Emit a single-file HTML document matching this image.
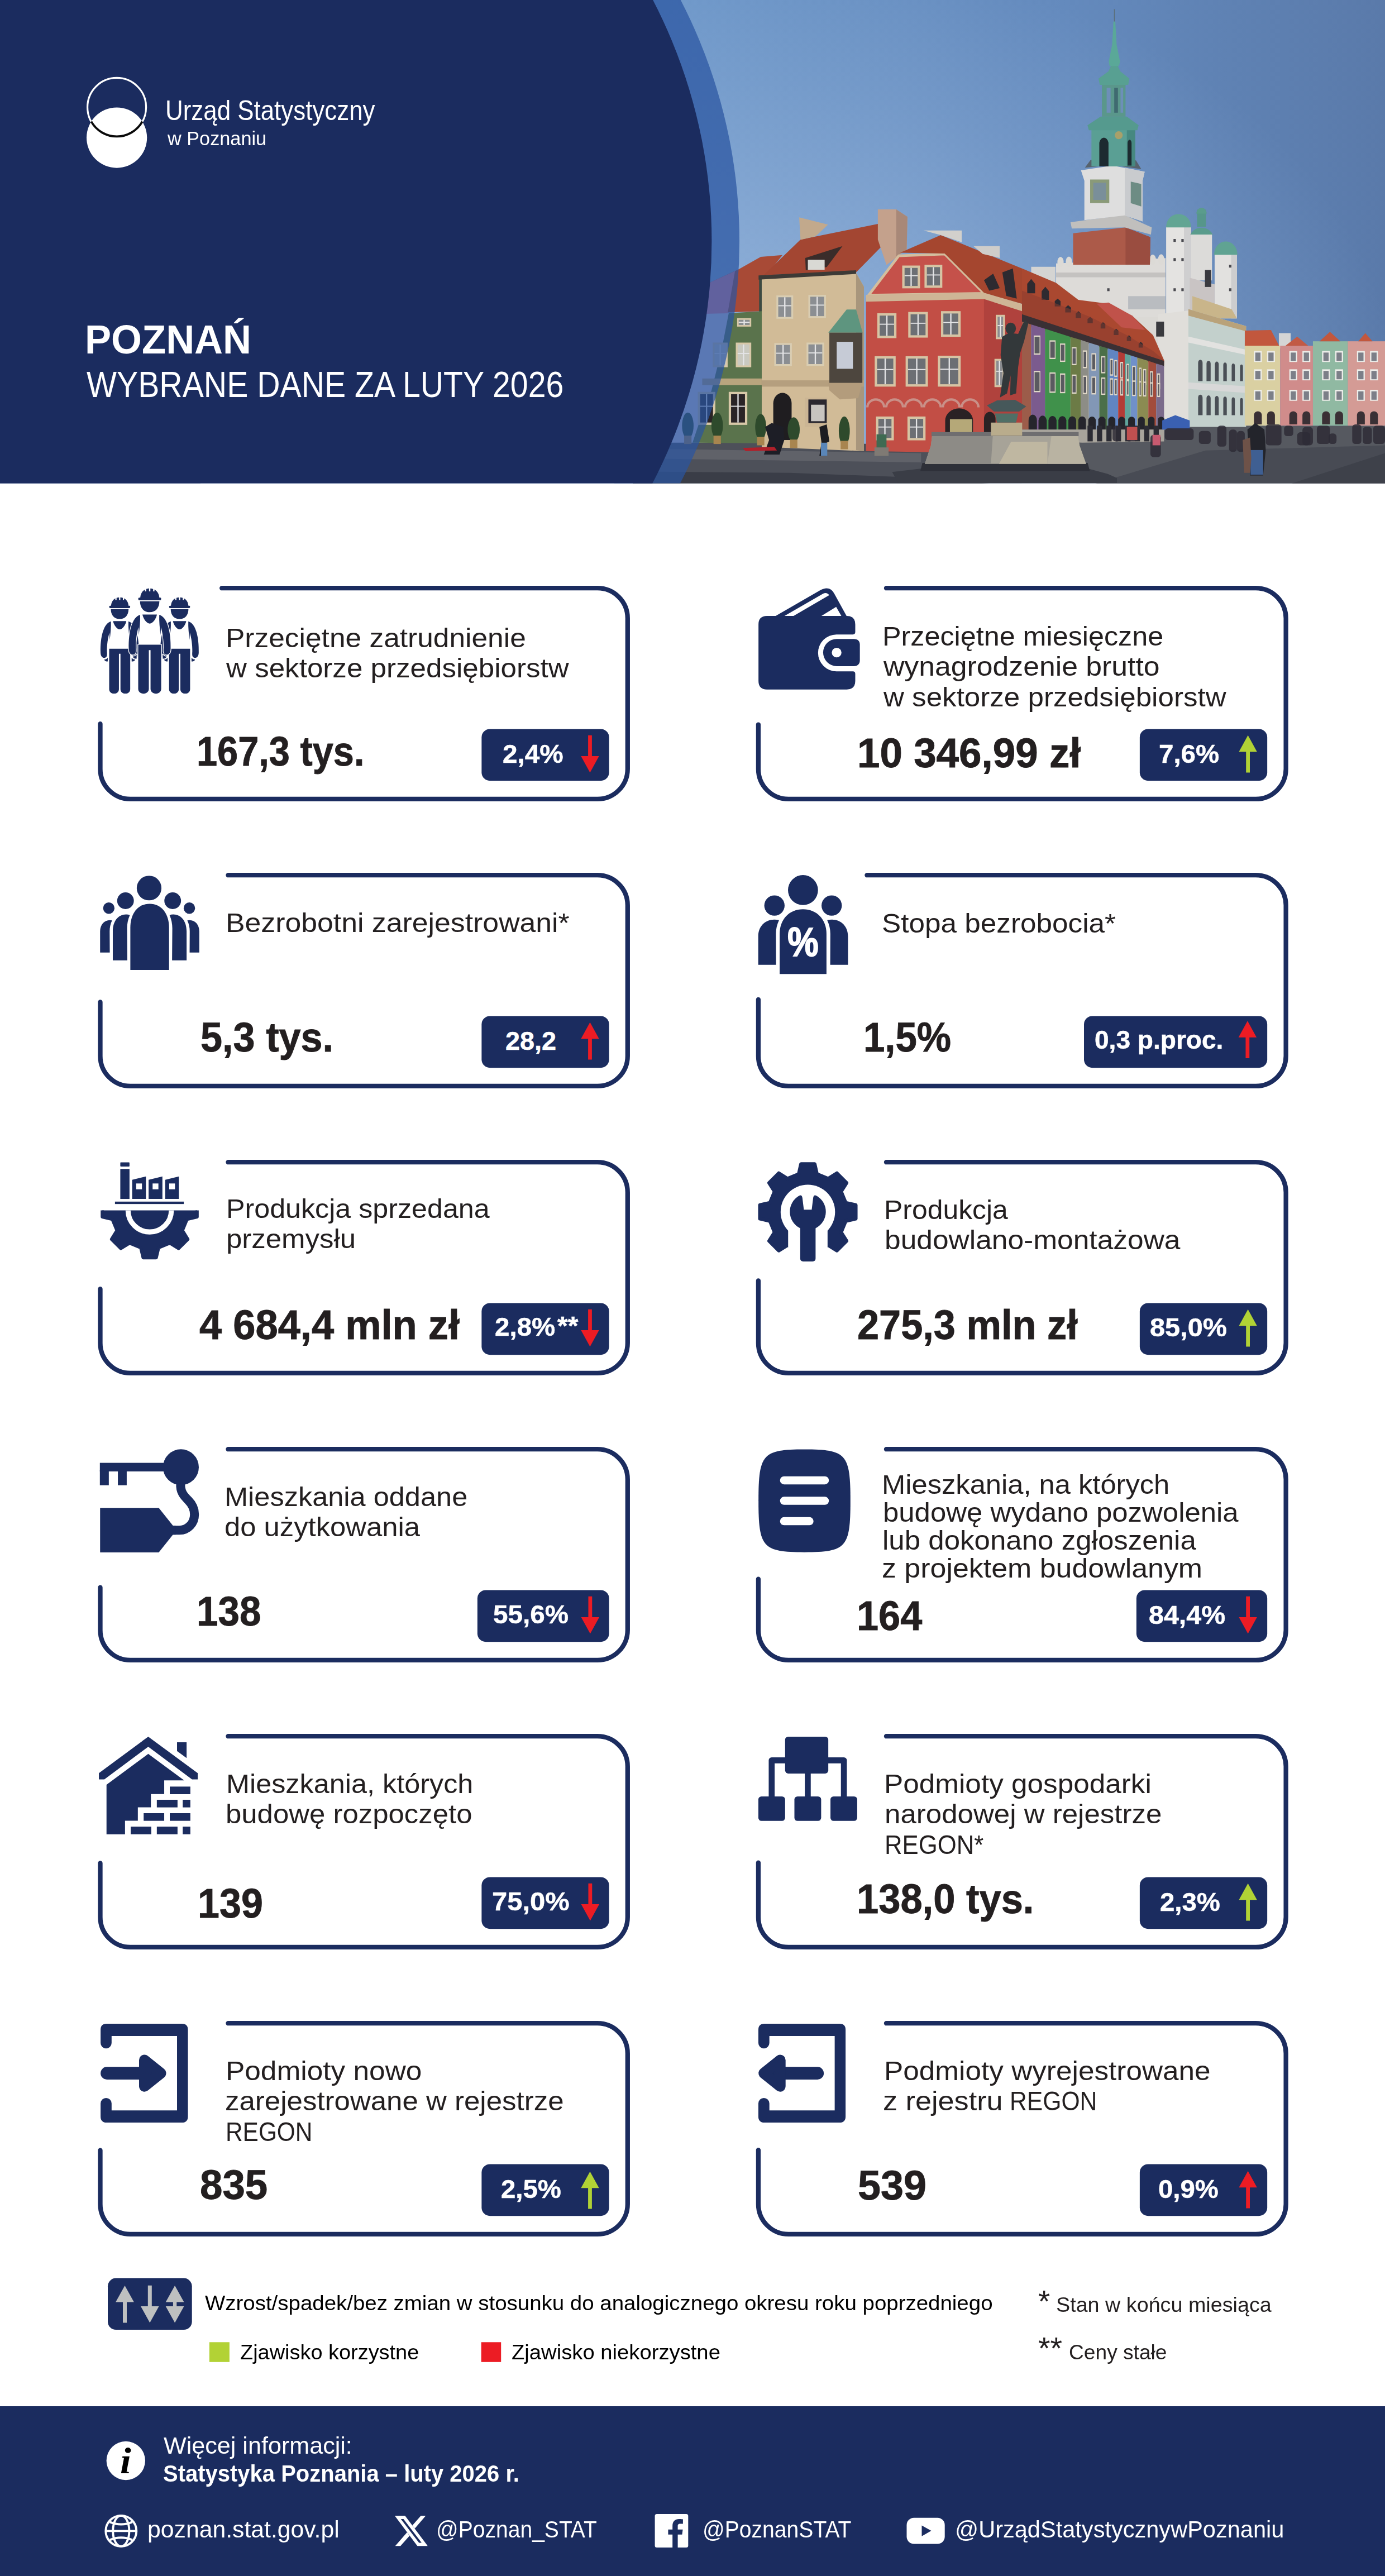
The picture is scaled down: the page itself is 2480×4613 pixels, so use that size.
<!DOCTYPE html>
<html lang="pl"><head><meta charset="utf-8"><title>Poznań – wybrane dane za luty 2026</title>
<style>
html,body{margin:0;padding:0;background:#fff}
body{width:2480px;height:4613px;position:relative;overflow:hidden;font-family:"Liberation Sans",sans-serif;color:#231f20}
.t{position:absolute;white-space:pre;line-height:1;transform-origin:0 0;display:block}
.ic{position:absolute;overflow:visible}
#bg{position:absolute;left:0;top:0}
#hd{position:absolute;left:0;top:0}
#ft{position:absolute;left:0;top:4309px;width:2480px;height:304px;background:#1b2c5f}
</style></head><body>
<svg id="hd" width="2480" height="866" viewBox="0 0 2480 866">
<defs>
<linearGradient id="sky" gradientUnits="userSpaceOnUse" x1="1200" y1="0" x2="2480" y2="0"><stop offset="0" stop-color="#6c96c8"/><stop offset="0.55" stop-color="#648abd"/><stop offset="1" stop-color="#5a7aaa"/></linearGradient>
<radialGradient id="sky2" gradientUnits="userSpaceOnUse" cx="0" cy="0" r="1" gradientTransform="translate(1300 700) scale(1200 800)"><stop offset="0" stop-color="#98b6dc" stop-opacity="0.9"/><stop offset="0.35" stop-color="#98b6dc" stop-opacity="0.6"/><stop offset="0.7" stop-color="#98b6dc" stop-opacity="0.25"/><stop offset="1" stop-color="#98b6dc" stop-opacity="0"/></radialGradient>
<clipPath id="hc"><rect x="0" y="0" width="2480" height="865.5"/></clipPath>
</defs>
<g clip-path="url(#hc)">
<rect x="1100" y="0" width="1380" height="865.5" fill="url(#sky)"/>
<rect x="1100" y="0" width="1380" height="865.5" fill="url(#sky2)"/>
<g transform="translate(1830 0) scale(0.46931)"><path d="M0,1025 130,1082 250,1172 330,1162 420,1215 0,1215Z" fill="#a8472f" /><rect x="35" y="1018" width="93" height="94" fill="#d4d4d2" /><path d="M0,1060 45,1085 45,1145 0,1130Z" fill="#2a2a32" /><path d="M130,1005 548,985 548,1215 130,1215Z" fill="#dddbd8" /><ellipse cx="147" cy="1000" rx="12" ry="20" fill="#dcdad6"/><ellipse cx="179" cy="999" rx="12" ry="20" fill="#dcdad6"/><ellipse cx="211" cy="998" rx="12" ry="20" fill="#dcdad6"/><ellipse cx="243" cy="998" rx="12" ry="20" fill="#dcdad6"/><ellipse cx="275" cy="997" rx="12" ry="20" fill="#dcdad6"/><ellipse cx="307" cy="996" rx="12" ry="20" fill="#dcdad6"/><ellipse cx="339" cy="995" rx="12" ry="20" fill="#dcdad6"/><ellipse cx="371" cy="994" rx="12" ry="20" fill="#dcdad6"/><ellipse cx="403" cy="994" rx="12" ry="20" fill="#dcdad6"/><ellipse cx="435" cy="993" rx="12" ry="20" fill="#dcdad6"/><ellipse cx="467" cy="992" rx="12" ry="20" fill="#dcdad6"/><ellipse cx="499" cy="991" rx="12" ry="20" fill="#dcdad6"/><ellipse cx="531" cy="990" rx="12" ry="20" fill="#dcdad6"/><rect x="130" y="1040" width="418" height="18" fill="#c4c2c0" /><rect x="405" y="1130" width="143" height="50" fill="#b9bcc0" /><path d="M195,890 395,868 490,905 488,1010 195,1010Z" fill="#ac5a49" /><path d="M395,868 490,905 488,1010 395,1010Z" fill="#9a4d40" /><path d="M185,848 390,820 495,868 492,895 392,868 190,872Z" fill="#c0bfbd" /><path d="M225,650 345,632 468,655 460,690 460,845 392,822 238,840 238,690Z" fill="#dedede" /><path d="M392,640 468,655 460,690 460,845 392,822Z" fill="#c9cbce" /><rect x="260" y="685" width="73" height="90" fill="#8a9a78" /><rect x="272" y="697" width="49" height="66" fill="#7a8f9a" /><path d="M415,693 455,702 455,788 415,775Z" fill="#6d8c84" /><path d="M240,640 262,610 435,612 455,645 345,630Z" fill="#56626c" /><path d="M265,495 432,495 432,635 265,635Z" fill="#5a9f94" /><path d="M400,495 432,495 432,635 400,635Z" fill="#468880" /><path d="M295,635 295,545 A18,26 0 0 1 330,545 L330,635Z" fill="#1d2a30" /><path d="M403,632 403,545 A8,18 0 0 1 418,545 L418,632Z" fill="#1d2a30" /><circle cx="369" cy="516" r="15" fill="#a8a06a"/><path d="M250,478 300,445 400,445 445,478 440,497 255,497Z" fill="#559a8e" /><rect x="305" y="322" width="90" height="123" fill="#5a978b" /><rect x="323" y="335" width="15" height="95" fill="#6d8fb8" /><rect x="352" y="335" width="14" height="95" fill="#3f6a70" /><rect x="376" y="335" width="10" height="95" fill="#6d8fb8" /><path d="M292,300 330,272 340,250 365,250 375,272 410,300 405,324 297,324Z" fill="#58a092" /><path d="M349,82 356,82 361,170 374,235 370,252 334,252 331,235 344,170Z" fill="#5aa898" /><rect x="351" y="35" width="2.5" height="47" fill="#5a6a70" /><rect x="550" y="865" width="95" height="350" fill="#e4e3e1" /><rect x="618" y="865" width="27" height="350" fill="#cfcfd0" /><path d="M550,868 C550,800 645,800 645,868 Z" fill="#62a593"/><rect x="645" y="890" width="80" height="180" fill="#dcdbd9" /><path d="M642,895 C660,860 710,860 728,895 Z" fill="#5a9c8c"/><rect x="668" y="800" width="34" height="65" fill="#56968a" /><path d="M665,815 C668,785 702,785 705,815 Z" fill="#5a9c8c"/><rect x="735" y="968" width="85" height="247" fill="#e2e1df" /><rect x="798" y="968" width="22" height="247" fill="#cdcdce" /><path d="M733,972 C735,905 820,905 822,972 Z" fill="#60a392"/><path d="M640,1060 735,1085 735,1215 640,1215Z" fill="#c9c4c4" /><path d="M650,1130 800,1180 820,1215 650,1215Z" fill="#c9b58a" /><rect x="698" y="1030" width="24" height="65" fill="#3a3a40" /><rect x="578" y="912" width="9" height="11" fill="#4a4a50" /><rect x="608" y="912" width="9" height="11" fill="#4a4a50" /><rect x="578" y="985" width="9" height="11" fill="#4a4a50" /><rect x="608" y="985" width="9" height="11" fill="#4a4a50" /><rect x="578" y="1100" width="9" height="11" fill="#4a4a50" /><rect x="608" y="1100" width="9" height="11" fill="#4a4a50" /><rect x="790" y="1010" width="9" height="11" fill="#4a4a50" /><rect x="790" y="1100" width="9" height="11" fill="#4a4a50" /><rect x="325" y="1100" width="9" height="11" fill="#4a4a50" /></g>
<g transform="translate(1830 300) scale(0.46931)"><path d="M0,985 1385,985 1385,1215 0,1215Z" fill="#565960" /><path d="M250,1215 700,1080 1385,1060 1385,1215Z" fill="#484b54" /><path d="M1000,1215 1385,1090 1385,1215Z" fill="#3e414a" /><path d="M130,570 548,570 548,1000 130,1000Z" fill="#dbd9d5" /><path d="M520,560 640,545 640,990 520,990Z" fill="#e0deda" /><rect x="512" y="588" width="30" height="57" fill="#3a3a3e" /><path d="M635,540 855,605 855,990 635,990Z" fill="#c3d0cc" /><path d="M635,540 855,605 855,625 635,565Z" fill="#b9a27a" /><path d="M635,645 855,695 855,715 635,668Z" fill="#e2e2e0" /><path d="M635,820 855,835 855,860 635,845Z" fill="#d8d8d8" /><path d="M672,815 V745 A8.5,11.5 0 0 1 689.0,745 V815 Z" fill="#4a4f56"/><path d="M672,945 V878 A8.5,11.5 0 0 1 689.0,878 V945 Z" fill="#4a4f56"/><path d="M704,815 V748 A7.9,10.9 0 0 1 719.8,748 V815 Z" fill="#4a4f56"/><path d="M704,945 V880 A7.9,10.9 0 0 1 719.8,880 V945 Z" fill="#4a4f56"/><path d="M736,815 V751 A7.3,10.3 0 0 1 750.6,751 V815 Z" fill="#4a4f56"/><path d="M736,945 V882 A7.3,10.3 0 0 1 750.6,882 V945 Z" fill="#4a4f56"/><path d="M768,815 V754 A6.7,9.7 0 0 1 781.4,754 V815 Z" fill="#4a4f56"/><path d="M768,945 V884 A6.7,9.7 0 0 1 781.4,884 V945 Z" fill="#4a4f56"/><path d="M800,815 V757 A6.1,9.1 0 0 1 812.2,757 V815 Z" fill="#4a4f56"/><path d="M800,945 V886 A6.1,9.1 0 0 1 812.2,886 V945 Z" fill="#4a4f56"/><path d="M832,815 V760 A5.5,8.5 0 0 1 843.0,760 V815 Z" fill="#4a4f56"/><path d="M832,945 V888 A5.5,8.5 0 0 1 843.0,888 V945 Z" fill="#4a4f56"/><path d="M0,385 130,440 215,505 330,520 420,565 500,640 542,735 542,755 0,600Z" fill="#aa4830" /><path d="M285,520 330,515 420,565 470,620 380,610Z" fill="#c0524a" /><path d="M20,480 20,444 35,425 50,444 50,480Z" fill="#2e2a30" /><path d="M75,505 75,472 89,455 103,472 103,505Z" fill="#2e2a30" /><path d="M125,530 125,510 136,500 147,510 147,530Z" fill="#2e2a30" /><path d="M165,553 165,535 176,525 187,535 187,553Z" fill="#2e2a30" /><path d="M205,574 205,557 215,548 225,557 225,574Z" fill="#2e2a30" /><path d="M250,594 250,578 260,570 270,578 270,594Z" fill="#2e2a30" /><path d="M300,614 300,598 309,590 318,598 318,614Z" fill="#2e2a30" /><path d="M350,639 350,623 359,615 368,623 368,639Z" fill="#2e2a30" /><path d="M400,662 400,648 408,640 416,648 416,662Z" fill="#2e2a30" /><path d="M445,687 445,673 453,665 461,673 461,687Z" fill="#2e2a30" /><path d="M0,470 120,515 260,570 400,640 500,700 542,735 542,745 0,560Z" fill="#8a3d30" opacity="0.55"/><path d="M0,560 542,738 542,760 0,592Z" fill="#3a3034" /><path d="M0,588 35,599 35,1000 0,1000Z" fill="#9c5c4a" /><path d="M35,599 88,615 88,1000 35,1000Z" fill="#7b5b8e" /><path d="M88,615 185,646 185,1000 88,1000Z" fill="#40914b" /><path d="M185,646 225,658 225,1000 185,1000Z" fill="#6c7b46" /><path d="M225,658 255,668 255,1000 225,1000Z" fill="#8d8d86" /><path d="M255,668 295,680 295,1000 255,1000Z" fill="#8297b6" /><path d="M295,680 327,690 327,1000 295,1000Z" fill="#4b6f49" /><path d="M327,690 367,702 367,1000 327,1000Z" fill="#6185c2" /><path d="M367,702 392,710 392,1000 367,1000Z" fill="#b23c36" /><path d="M392,710 415,717 415,1000 392,1000Z" fill="#60a49b" /><path d="M415,717 440,725 440,1000 415,1000Z" fill="#7090c9" /><path d="M440,725 482,738 482,1000 440,1000Z" fill="#8b8b52" /><path d="M482,738 512,748 512,1000 482,1000Z" fill="#a24c3c" /><path d="M512,748 542,757 542,1000 512,1000Z" fill="#7b6b8b" /><rect x="45" y="640.9289667896679" width="25" height="73.27499999999998" fill="#e0d8c8" /><rect x="48" y="645.9289667896679" width="19" height="63.27499999999998" fill="#5a5a60" /><rect x="45" y="775.75" width="25" height="81.54999999999995" fill="#e0d8c8" /><rect x="48" y="780.75" width="19" height="71.54999999999995" fill="#5a5a60" /><rect x="105" y="659.3256457564576" width="23" height="71.505" fill="#e0d8c8" /><rect x="108" y="664.3256457564576" width="17" height="61.504999999999995" fill="#5a5a60" /><rect x="105" y="781.65" width="23" height="78.00999999999999" fill="#e0d8c8" /><rect x="108" y="786.65" width="17" height="68.00999999999999" fill="#5a5a60" /><rect x="145" y="671.330258302583" width="20" height="70.35000000000002" fill="#e0d8c8" /><rect x="148" y="676.330258302583" width="14" height="60.35000000000002" fill="#5a5a60" /><rect x="145" y="785.5" width="20" height="75.70000000000005" fill="#e0d8c8" /><rect x="148" y="790.5" width="14" height="65.70000000000005" fill="#5a5a60" /><rect x="190" y="685.049815498155" width="18" height="69.02999999999997" fill="#e0d8c8" /><rect x="193" y="690.049815498155" width="12" height="59.02999999999997" fill="#5a5a60" /><rect x="190" y="789.9" width="18" height="73.05999999999995" fill="#e0d8c8" /><rect x="193" y="794.9" width="12" height="63.059999999999945" fill="#5a5a60" /><rect x="232" y="697.8339483394834" width="16" height="67.79999999999995" fill="#e0d8c8" /><rect x="235" y="702.8339483394834" width="10" height="57.799999999999955" fill="#5a5a60" /><rect x="232" y="794.0" width="16" height="70.60000000000002" fill="#e0d8c8" /><rect x="235" y="799.0" width="10" height="60.60000000000002" fill="#5a5a60" /><rect x="265" y="708.2795202952029" width="17" height="66.79499999999996" fill="#e0d8c8" /><rect x="268" y="713.2795202952029" width="11" height="56.79499999999996" fill="#5a5a60" /><rect x="265" y="797.35" width="17" height="68.59000000000003" fill="#e0d8c8" /><rect x="268" y="802.35" width="11" height="58.59000000000003" fill="#5a5a60" /><rect x="302" y="719.6605166051661" width="16" height="65.70000000000005" fill="#e0d8c8" /><rect x="305" y="724.6605166051661" width="10" height="55.700000000000045" fill="#5a5a60" /><rect x="302" y="801.0" width="16" height="66.39999999999998" fill="#e0d8c8" /><rect x="305" y="806.0" width="10" height="56.39999999999998" fill="#5a5a60" /><rect x="335" y="729.4824723247233" width="13" height="64.755" fill="#e0d8c8" /><rect x="338" y="734.4824723247233" width="7" height="54.754999999999995" fill="#5a5a60" /><rect x="335" y="804.15" width="13" height="64.50999999999999" fill="#e0d8c8" /><rect x="338" y="809.15" width="7" height="54.50999999999999" fill="#5a5a60" /><rect x="352" y="734.6273062730627" width="12" height="64.25999999999999" fill="#e0d8c8" /><rect x="355" y="739.6273062730627" width="6" height="54.25999999999999" fill="#5a5a60" /><rect x="352" y="805.8" width="12" height="63.51999999999998" fill="#e0d8c8" /><rect x="355" y="810.8" width="6" height="53.51999999999998" fill="#5a5a60" /><rect x="375" y="741.6429889298893" width="11" height="63.585000000000036" fill="#e0d8c8" /><rect x="378" y="746.6429889298893" width="5" height="53.585000000000036" fill="#5a5a60" /><rect x="375" y="808.05" width="11" height="62.16999999999996" fill="#e0d8c8" /><rect x="378" y="813.05" width="5" height="52.16999999999996" fill="#5a5a60" /><rect x="398" y="748.8145756457565" width="11" height="62.89499999999998" fill="#e0d8c8" /><rect x="401" y="753.8145756457565" width="5" height="52.89499999999998" fill="#5a5a60" /><rect x="398" y="810.35" width="11" height="60.789999999999964" fill="#e0d8c8" /><rect x="401" y="815.35" width="5" height="50.789999999999964" fill="#5a5a60" /><rect x="420" y="756.1420664206642" width="14" height="62.190000000000055" fill="#e0d8c8" /><rect x="423" y="761.1420664206642" width="8" height="52.190000000000055" fill="#5a5a60" /><rect x="420" y="812.7" width="14" height="59.379999999999995" fill="#e0d8c8" /><rect x="423" y="817.7" width="8" height="49.379999999999995" fill="#5a5a60" /><rect x="446" y="763.6254612546126" width="10" height="61.47000000000003" fill="#e0d8c8" /><rect x="449" y="768.6254612546126" width="4" height="51.47000000000003" fill="#5a5a60" /><rect x="446" y="815.1" width="10" height="57.940000000000055" fill="#e0d8c8" /><rect x="449" y="820.1" width="4" height="47.940000000000055" fill="#5a5a60" /><rect x="462" y="768.9261992619927" width="12" height="60.960000000000036" fill="#e0d8c8" /><rect x="465" y="773.9261992619927" width="6" height="50.960000000000036" fill="#5a5a60" /><rect x="462" y="816.8" width="12" height="56.91999999999996" fill="#e0d8c8" /><rect x="465" y="821.8" width="6" height="46.91999999999996" fill="#5a5a60" /><rect x="488" y="777.0332103321033" width="12" height="60.17999999999995" fill="#e0d8c8" /><rect x="491" y="782.0332103321033" width="6" height="50.17999999999995" fill="#5a5a60" /><rect x="488" y="819.4" width="12" height="55.360000000000014" fill="#e0d8c8" /><rect x="491" y="824.4" width="6" height="45.360000000000014" fill="#5a5a60" /><rect x="515" y="785.4520295202952" width="12" height="59.370000000000005" fill="#e0d8c8" /><rect x="518" y="790.4520295202952" width="6" height="49.370000000000005" fill="#5a5a60" /><rect x="515" y="822.1" width="12" height="53.74000000000001" fill="#e0d8c8" /><rect x="518" y="827.1" width="6" height="43.74000000000001" fill="#5a5a60" /><path d="M25,1000 V965.0 A16,22 0 0 1 57.0,965.0 V1000 Z" fill="#25252c"/><path d="M63,1000 V964.5 A16,22 0 0 1 94.4,964.5 V1000 Z" fill="#25252c"/><path d="M101,1000 V964.0 A16,22 0 0 1 131.8,964.0 V1000 Z" fill="#25252c"/><path d="M139,1000 V963.5 A16,22 0 0 1 169.2,963.5 V1000 Z" fill="#25252c"/><path d="M177,1000 V963.0 A16,22 0 0 1 206.6,963.0 V1000 Z" fill="#25252c"/><path d="M215,1000 V962.5 A16,22 0 0 1 244.0,962.5 V1000 Z" fill="#25252c"/><path d="M253,1000 V962.0 A16,22 0 0 1 281.4,962.0 V1000 Z" fill="#25252c"/><path d="M291,1000 V961.5 A16,22 0 0 1 318.8,961.5 V1000 Z" fill="#25252c"/><path d="M329,1000 V961.0 A16,22 0 0 1 356.2,961.0 V1000 Z" fill="#25252c"/><path d="M367,1000 V960.5 A16,22 0 0 1 393.6,960.5 V1000 Z" fill="#25252c"/><path d="M405,1000 V960.0 A16,22 0 0 1 431.0,960.0 V1000 Z" fill="#25252c"/><path d="M443,1000 V959.5 A16,22 0 0 1 468.4,959.5 V1000 Z" fill="#25252c"/><path d="M481,1000 V959.0 A16,22 0 0 1 505.8,959.0 V1000 Z" fill="#25252c"/><path d="M519,1000 V958.5 A16,22 0 0 1 543.2,958.5 V1000 Z" fill="#25252c"/><path d="M0,1000 542,1000 542,1045 230,1050 0,1040Z" fill="#a8a49c" /><rect x="250" y="985" width="20" height="60" fill="#2c2c34" /><rect x="286" y="985" width="20" height="60" fill="#2c2c34" /><rect x="322" y="985" width="20" height="60" fill="#2c2c34" /><rect x="358" y="985" width="20" height="60" fill="#2c2c34" /><rect x="394" y="985" width="20" height="60" fill="#2c2c34" /><rect x="430" y="985" width="20" height="60" fill="#2c2c34" /><rect x="466" y="985" width="20" height="60" fill="#2c2c34" /><rect x="502" y="985" width="20" height="60" fill="#2c2c34" /><rect x="980" y="632" width="45" height="58" fill="#d5d5d5" /><path d="M850,622 950,620 982,682 850,682Z" fill="#c2573d" /><rect x="850" y="680" width="135" height="305" fill="#dad0a2" /><rect x="985" y="680" width="125" height="305" fill="#d08c8b" /><path d="M1005,680 1050,645 1092,680Z" fill="#c25a45" /><rect x="1110" y="663" width="133" height="322" fill="#90b9a2" /><path d="M1135,663 1175,627 1215,663Z" fill="#c2573d" /><rect x="1243" y="663" width="142" height="322" fill="#d49b95" /><path d="M1283,663 1310,632 1337,663Z" fill="#c2573d" /><rect x="885" y="700" width="30" height="42" fill="#eeeeea" /><rect x="890" y="706" width="20" height="32" fill="#7c7f88" /><rect x="885" y="770" width="30" height="42" fill="#eeeeea" /><rect x="890" y="776" width="20" height="32" fill="#7c7f88" /><rect x="885" y="848" width="30" height="42" fill="#eeeeea" /><rect x="890" y="854" width="20" height="32" fill="#7c7f88" /><path d="M885,980 V945 A15,15 0 0 1 915,945 V980 Z" fill="#3a3035"/><rect x="935" y="700" width="30" height="42" fill="#eeeeea" /><rect x="940" y="706" width="20" height="32" fill="#7c7f88" /><rect x="935" y="770" width="30" height="42" fill="#eeeeea" /><rect x="940" y="776" width="20" height="32" fill="#7c7f88" /><rect x="935" y="848" width="30" height="42" fill="#eeeeea" /><rect x="940" y="854" width="20" height="32" fill="#7c7f88" /><path d="M935,980 V945 A15,15 0 0 1 965,945 V980 Z" fill="#3a3035"/><rect x="1020" y="700" width="30" height="42" fill="#eeeeea" /><rect x="1025" y="706" width="20" height="32" fill="#7c7f88" /><rect x="1020" y="770" width="30" height="42" fill="#eeeeea" /><rect x="1025" y="776" width="20" height="32" fill="#7c7f88" /><rect x="1020" y="848" width="30" height="42" fill="#eeeeea" /><rect x="1025" y="854" width="20" height="32" fill="#7c7f88" /><path d="M1020,980 V945 A15,15 0 0 1 1050,945 V980 Z" fill="#3a3035"/><rect x="1070" y="700" width="30" height="42" fill="#eeeeea" /><rect x="1075" y="706" width="20" height="32" fill="#7c7f88" /><rect x="1070" y="770" width="30" height="42" fill="#eeeeea" /><rect x="1075" y="776" width="20" height="32" fill="#7c7f88" /><rect x="1070" y="848" width="30" height="42" fill="#eeeeea" /><rect x="1075" y="854" width="20" height="32" fill="#7c7f88" /><path d="M1070,980 V945 A15,15 0 0 1 1100,945 V980 Z" fill="#3a3035"/><rect x="1145" y="700" width="30" height="42" fill="#eeeeea" /><rect x="1150" y="706" width="20" height="32" fill="#7c7f88" /><rect x="1145" y="770" width="30" height="42" fill="#eeeeea" /><rect x="1150" y="776" width="20" height="32" fill="#7c7f88" /><rect x="1145" y="848" width="30" height="42" fill="#eeeeea" /><rect x="1150" y="854" width="20" height="32" fill="#7c7f88" /><path d="M1145,980 V945 A15,15 0 0 1 1175,945 V980 Z" fill="#3a3035"/><rect x="1195" y="700" width="30" height="42" fill="#eeeeea" /><rect x="1200" y="706" width="20" height="32" fill="#7c7f88" /><rect x="1195" y="770" width="30" height="42" fill="#eeeeea" /><rect x="1200" y="776" width="20" height="32" fill="#7c7f88" /><rect x="1195" y="848" width="30" height="42" fill="#eeeeea" /><rect x="1200" y="854" width="20" height="32" fill="#7c7f88" /><path d="M1195,980 V945 A15,15 0 0 1 1225,945 V980 Z" fill="#3a3035"/><rect x="1278" y="700" width="30" height="42" fill="#eeeeea" /><rect x="1283" y="706" width="20" height="32" fill="#7c7f88" /><rect x="1278" y="770" width="30" height="42" fill="#eeeeea" /><rect x="1283" y="776" width="20" height="32" fill="#7c7f88" /><rect x="1278" y="848" width="30" height="42" fill="#eeeeea" /><rect x="1283" y="854" width="20" height="32" fill="#7c7f88" /><path d="M1278,980 V945 A15,15 0 0 1 1308,945 V980 Z" fill="#3a3035"/><rect x="1328" y="700" width="30" height="42" fill="#eeeeea" /><rect x="1333" y="706" width="20" height="32" fill="#7c7f88" /><rect x="1328" y="770" width="30" height="42" fill="#eeeeea" /><rect x="1333" y="776" width="20" height="32" fill="#7c7f88" /><rect x="1328" y="848" width="30" height="42" fill="#eeeeea" /><rect x="1333" y="854" width="20" height="32" fill="#7c7f88" /><path d="M1328,980 V945 A15,15 0 0 1 1358,945 V980 Z" fill="#3a3035"/><path d="M535,965 585,945 640,965 640,1000 535,1000Z" fill="#3a60b2" /><rect x="345" y="985" width="30" height="60" rx="12" fill="#2e2c36" opacity="0.85"/><rect x="395" y="985" width="45" height="60" rx="12" fill="#2e2c36" opacity="0.85"/><rect x="490" y="1020" width="40" height="85" rx="12" fill="#2e2c36" opacity="0.85"/><rect x="545" y="995" width="110" height="45" rx="12" fill="#2e2c36" opacity="0.85"/><rect x="675" y="1005" width="45" height="50" rx="12" fill="#2e2c36" opacity="0.85"/><rect x="745" y="985" width="35" height="80" rx="12" fill="#2e2c36" opacity="0.85"/><rect x="790" y="1000" width="30" height="85" rx="12" fill="#2e2c36" opacity="0.85"/><rect x="820" y="1005" width="30" height="80" rx="12" fill="#2e2c36" opacity="0.85"/><rect x="930" y="980" width="60" height="80" rx="12" fill="#2e2c36" opacity="0.85"/><rect x="1000" y="985" width="35" height="40" rx="12" fill="#2e2c36" opacity="0.85"/><rect x="1050" y="1010" width="50" height="50" rx="12" fill="#2e2c36" opacity="0.85"/><rect x="1070" y="990" width="40" height="70" rx="12" fill="#2e2c36" opacity="0.85"/><rect x="1125" y="985" width="50" height="70" rx="12" fill="#2e2c36" opacity="0.85"/><rect x="1170" y="1015" width="30" height="40" rx="12" fill="#2e2c36" opacity="0.85"/><rect x="1260" y="980" width="35" height="75" rx="12" fill="#2e2c36" opacity="0.85"/><rect x="1300" y="990" width="35" height="65" rx="12" fill="#2e2c36" opacity="0.85"/><rect x="1340" y="985" width="45" height="70" rx="12" fill="#2e2c36" opacity="0.85"/><path d="M860,1000 890,975 925,1000 930,1080 920,1175 870,1175 865,1085Z" fill="#23242b" /><rect x="872" y="1078" width="48" height="94" fill="#3f5f92" /><path d="M842,1040 870,1030 875,1110 870,1165 848,1165Z" fill="#6e5248" /><rect x="400" y="990" width="40" height="50" fill="#c05050" /><rect x="498" y="1020" width="30" height="40" fill="#c85a70" /></g>
<g transform="translate(1180 300) scale(0.46931)"><path d="M-100,1045 1385,1060 1385,1215 -100,1215Z" fill="#4d5059" /><path d="M-100,1160 500,1165 900,1180 1385,1215 -100,1215Z" fill="#3a3d47" /><path d="M-100,1072 1000,1090 1000,1125 -100,1110Z" fill="#686a70" opacity="0.7"/><path d="M-100,560 300,555 300,1050 -100,1050Z" fill="#d8d2e6" /><path d="M-100,565 -100,520 194,439 305,388 388,341 471,334 410,410 392,420 392,548Z" fill="#a84a36" /><path d="M-100,565 -100,520 194,439 290,395 262,556Z" fill="#f08098" /><rect x="382" y="420" width="12" height="630" fill="#3d4a42" /><path d="M266,556 392,548 392,1052 128,1050 158,960 200,852 238,700Z" fill="#5a734c" /><rect x="165" y="805" width="227" height="25" fill="#b9a57e" /><rect x="298" y="575" width="54" height="32" fill="#d8c8a8" /><rect x="304" y="581" width="42" height="20" fill="#8a8f90" /><rect x="322.5" y="581" width="5.0" height="20" fill="#e4e4e6" /><rect x="304" y="588.44" width="42" height="4.0" fill="#e4e4e6" /><rect x="293" y="668" width="59" height="94" fill="#d8c8a8" /><rect x="300" y="675" width="45" height="80" fill="#c9c9c0" /><rect x="320.0" y="675" width="5.0" height="80" fill="#e4e4e6" /><rect x="300" y="707.48" width="45" height="4.0" fill="#e4e4e6" /><rect x="266" y="856" width="71" height="126" fill="#d8c8a8" /><rect x="275" y="865" width="53" height="108" fill="#2a2426" /><rect x="299.0" y="865" width="5.0" height="108" fill="#e4e4e6" /><rect x="275" y="908.92" width="53" height="4.0" fill="#e4e4e6" /><rect x="205" y="668" width="57" height="94" fill="#d8c8a8" /><rect x="212" y="675" width="43" height="80" fill="#c9c9c0" /><rect x="231.0" y="675" width="5.0" height="80" fill="#e4e4e6" /><rect x="212" y="707.48" width="43" height="4.0" fill="#e4e4e6" /><rect x="148" y="856" width="67" height="126" fill="#d8c8a8" /><rect x="157" y="865" width="49" height="108" fill="#2a2426" /><rect x="179.0" y="865" width="5.0" height="108" fill="#e4e4e6" /><rect x="157" y="908.92" width="49" height="4.0" fill="#e4e4e6" /><path d="M392,417 752,402 782,455 782,1082 392,1066Z" fill="#d1bb97" /><path d="M752,402 782,455 782,1082 752,1078Z" fill="#a8967c" /><path d="M400,410 540,275 835,215 862,288 752,400Z" fill="#a34632" /><path d="M380,412 752,392 752,406 380,428Z" fill="#3d3a36" /><path d="M558,345 700,300 640,380 560,392Z" fill="#3a2c2a" /><rect x="568" y="352" width="64" height="38" fill="#d9d9d4" /><path d="M535,190 645,218 598,262 540,276Z" fill="#c2a98c" /><path d="M835,160 905,160 948,188 945,312 868,372 835,275Z" fill="#c4a18c" /><path d="M905,160 948,188 945,312 905,340Z" fill="#a88878" /><rect x="448" y="488" width="64" height="89" fill="#d9cdb2" /><rect x="455" y="495" width="50" height="75" fill="#8b8e92" /><rect x="477.5" y="495" width="5.0" height="75" fill="#e4e4e6" /><rect x="455" y="525.38" width="50" height="4.0" fill="#e4e4e6" /><rect x="570" y="486" width="67" height="88" fill="#d9cdb2" /><rect x="577" y="493" width="53" height="74" fill="#8b8e92" /><rect x="601.0" y="493" width="5.0" height="74" fill="#e4e4e6" /><rect x="577" y="522.96" width="53" height="4.0" fill="#e4e4e6" /><rect x="440" y="670" width="67" height="87" fill="#d9cdb2" /><rect x="447" y="677" width="53" height="73" fill="#8b8e92" /><rect x="471.0" y="677" width="5.0" height="73" fill="#e4e4e6" /><rect x="447" y="706.54" width="53" height="4.0" fill="#e4e4e6" /><rect x="563" y="668" width="67" height="89" fill="#d9cdb2" /><rect x="570" y="675" width="53" height="75" fill="#8b8e92" /><rect x="594.0" y="675" width="5.0" height="75" fill="#e4e4e6" /><rect x="570" y="705.38" width="53" height="4.0" fill="#e4e4e6" /><rect x="392" y="812" width="390" height="24" fill="#b59f7e" /><path d="M436,1040 436,900 A35,40 0 0 1 506,900 L506,1040Z" fill="#1f1d20" /><rect x="556" y="878" width="86" height="112" fill="#cbb594" /><rect x="570" y="885" width="70" height="90" fill="#2b2830" /><rect x="580" y="905" width="52" height="63" fill="#c8c4c0" /><path d="M646,630 716,542 752,542 777,630Z" fill="#5e957f" /><rect x="650" y="630" width="126" height="192" fill="#4d463e" /><rect x="678" y="665" width="62" height="103" fill="#c6cbd6" /><path d="M646,822 776,822 760,880 690,885 650,850Z" fill="#b39c7c" /><path d="M790,498 1240,488 1385,545 1385,1092 790,1082Z" fill="#c24e45" /><path d="M1240,488 1385,545 1385,1092 1240,1085Z" fill="#b0423d" /><path d="M800,487 915,337 1090,330 1240,480Z" fill="#c5514a" stroke="#d4be9e" stroke-width="10"/><path d="M790,486 1240,477 1385,520 1385,548 1240,502 790,512Z" fill="#ceb596" /><path d="M920,325 1075,258 1385,385 1385,520 1240,478 1090,328Z" fill="#a5462f" /><path d="M1010,240 1155,240 1155,285 1075,258Z" fill="#d2d0cc" /><path d="M1200,300 1300,300 1300,345 1235,330Z" fill="#cfcdca" /><path d="M1240,430 1275,405 1300,460 1260,470Z" fill="#2d2a30" /><path d="M1310,400 1350,385 1365,500 1325,490Z" fill="#2d2a30" /><rect x="928" y="374" width="68" height="87" fill="#d6c4a4" /><rect x="937" y="383" width="50" height="69" fill="#6c6f74" /><rect x="959.5" y="383" width="5.0" height="69" fill="#e4e4e6" /><rect x="937" y="410.54" width="50" height="4.0" fill="#e4e4e6" /><rect x="1013" y="371" width="68" height="88" fill="#d6c4a4" /><rect x="1022" y="380" width="50" height="70" fill="#6c6f74" /><rect x="1044.5" y="380" width="5.0" height="70" fill="#e4e4e6" /><rect x="1022" y="407.96" width="50" height="4.0" fill="#e4e4e6" /><rect x="833" y="556" width="73" height="95" fill="#d6c4a4" /><rect x="842" y="565" width="55" height="77" fill="#6c6f74" /><rect x="867.0" y="565" width="5.0" height="77" fill="#e4e4e6" /><rect x="842" y="595.9" width="55" height="4.0" fill="#e4e4e6" /><rect x="951" y="551" width="75" height="98" fill="#d6c4a4" /><rect x="960" y="560" width="57" height="80" fill="#6c6f74" /><rect x="986.0" y="560" width="5.0" height="80" fill="#e4e4e6" /><rect x="960" y="592.16" width="57" height="4.0" fill="#e4e4e6" /><rect x="1076" y="548" width="75" height="98" fill="#d6c4a4" /><rect x="1085" y="557" width="57" height="80" fill="#6c6f74" /><rect x="1111.0" y="557" width="5.0" height="80" fill="#e4e4e6" /><rect x="1085" y="589.16" width="57" height="4.0" fill="#e4e4e6" /><rect x="823" y="720" width="80" height="116" fill="#d6c4a4" /><rect x="832" y="729" width="62" height="98" fill="#6c6f74" /><rect x="860.5" y="729" width="5.0" height="98" fill="#e4e4e6" /><rect x="832" y="768.72" width="62" height="4.0" fill="#e4e4e6" /><rect x="941" y="720" width="85" height="116" fill="#d6c4a4" /><rect x="950" y="729" width="67" height="98" fill="#6c6f74" /><rect x="981.0" y="729" width="5.0" height="98" fill="#e4e4e6" /><rect x="950" y="768.72" width="67" height="4.0" fill="#e4e4e6" /><rect x="1064" y="718" width="87" height="118" fill="#d6c4a4" /><rect x="1073" y="727" width="69" height="100" fill="#6c6f74" /><rect x="1105.0" y="727" width="5.0" height="100" fill="#e4e4e6" /><rect x="1073" y="767.56" width="69" height="4.0" fill="#e4e4e6" /><rect x="828" y="950" width="68" height="91" fill="#d6c4a4" /><rect x="837" y="959" width="50" height="73" fill="#6c6f74" /><rect x="859.5" y="959" width="5.0" height="73" fill="#e4e4e6" /><rect x="837" y="988.22" width="50" height="4.0" fill="#e4e4e6" /><rect x="948" y="950" width="69" height="91" fill="#d6c4a4" /><rect x="957" y="959" width="51" height="73" fill="#6c6f74" /><rect x="980.0" y="959" width="5.0" height="73" fill="#e4e4e6" /><rect x="957" y="988.22" width="51" height="4.0" fill="#e4e4e6" /><rect x="1285" y="562" width="35" height="93" fill="#d6c4a4" /><rect x="1292" y="569" width="21" height="79" fill="#8a8c90" /><rect x="1300.0" y="569" width="5.0" height="79" fill="#e4e4e6" /><rect x="1292" y="601.06" width="21" height="4.0" fill="#e4e4e6" /><rect x="1280" y="730" width="38" height="108" fill="#d6c4a4" /><rect x="1287" y="737" width="24" height="94" fill="#8a8c90" /><rect x="1296.5" y="737" width="5.0" height="94" fill="#e4e4e6" /><rect x="1287" y="775.36" width="24" height="4.0" fill="#e4e4e6" /><path d="M795,915 A32,30 0 0 1 859,915" fill="none" stroke="#c99088" stroke-width="9"/><path d="M867,915 A32,30 0 0 1 931,915" fill="none" stroke="#c99088" stroke-width="9"/><path d="M939,915 A32,30 0 0 1 1003,915" fill="none" stroke="#c99088" stroke-width="9"/><path d="M1011,915 A32,30 0 0 1 1075,915" fill="none" stroke="#c99088" stroke-width="9"/><path d="M1083,915 A32,30 0 0 1 1147,915" fill="none" stroke="#c99088" stroke-width="9"/><path d="M1155,915 A32,30 0 0 1 1219,915" fill="none" stroke="#c99088" stroke-width="9"/><path d="M1092,1010 1092,965 A52,45 0 0 1 1198,965 L1198,1010Z" fill="#2a2224" /><rect x="1110" y="960" width="85" height="50" fill="#b5a878" /><path d="M1240,1010 1240,960 A22,28 0 0 1 1284,960 L1284,1010Z" fill="#2a2224" /><ellipse cx="222" cy="985" rx="22" ry="50" fill="#2e4a2c"/><rect x="208" y="1023" width="28" height="32" fill="#a8854f" /><ellipse cx="388" cy="990" rx="21" ry="50" fill="#2e4a2c"/><rect x="374" y="1028" width="28" height="32" fill="#a8854f" /><ellipse cx="514" cy="1000" rx="23" ry="47" fill="#2e4a2c"/><rect x="500" y="1038" width="28" height="32" fill="#a8854f" /><ellipse cx="707" cy="1005" rx="21" ry="55" fill="#2e4a2c"/><rect x="693" y="1043" width="28" height="32" fill="#a8854f" /><ellipse cx="110" cy="985" rx="22" ry="50" fill="#2e4a2c"/><rect x="96" y="1023" width="28" height="32" fill="#a8854f" /><path d="M405,990 430,975 475,990 478,1040 460,1095 400,1095 420,1040Z" fill="#1d1e26" /><path d="M612,990 640,980 650,1045 640,1050 640,1100 612,1100 620,1050Z" fill="#1c1c20" /><rect x="618" y="1050" width="24" height="50" fill="#5a86b8" /><path d="M320,1070 440,1066 450,1080 330,1082Z" fill="#b0202a" /><rect x="830" y="1018" width="38" height="52" fill="#3f6a52" /><rect x="822" y="1068" width="54" height="32" fill="#7f7a74" /><path d="M889.6,1161.7 1020.3,1146.3 1628.0,1146.3 1712.6,1169.4 1747.2,1184.7 1747.2,1204.0 912.7,1204.0Z" fill="#3a3d46" /><path d="M1005.0,1127.1 1635.7,1127.1 1643.4,1157.8 997.3,1157.8Z" fill="#2e3038" /><path d="M1043.4,1011.7 1597.2,1011.7 1604.9,1061.7 1629.6,1130.9 1014.2,1130.9 1037.3,1061.7Z" fill="#a7a398" /><path d="M1043.4,1011.7 1274.2,1015.5 1266.5,1130.9 1014.2,1130.9 1037.3,1061.7Z" fill="#8d8b86" /><path d="M1497.3,1023.2 1597.2,1015.5 1604.9,1061.7 1629.6,1130.9 1481.9,1130.9Z" fill="#b9b3a2" /><path d="M1343.4,1046.3 1481.9,1046.3 1481.9,1130.9 1297.3,1130.9Z" fill="#c6bca4" opacity="0.8"/><path d="M1039.6,1009.4 1601.1,1009.4 1601.1,1024.8 1039.6,1024.8Z" fill="#6f6e70" /><path d="M1266.5,973.2 1385.7,973.2 1385.7,1023.2 1266.5,1023.2Z" fill="#b9ac8c" /><path d="M1281.9,938.6 1370.3,938.6 1362.6,973.2 1289.6,973.2Z" fill="#4f6f66" /><path d="M1251.1,907.8 1289.6,888.6 1358.8,886.3 1401.1,911.7 1374.2,930.9 1278.0,930.9Z" fill="#46585a" /><path d="M1308.8,646.3 1335.7,630.9 1370.3,634.8 1385.7,600.2 1397.3,580.9 1408.8,596.3 1393.4,661.7 1378.0,707.8 1370.3,761.7 1362.6,861.7 1339.6,869.4 1341.9,792.5 1328.0,861.7 1301.1,877.1 1314.2,784.8 1303.4,715.5Z" fill="#33383a" /><ellipse cx="1341.9" cy="614.0" rx="20" ry="22" fill="#33383a"/></g>
<circle cx="385" cy="432" r="939" fill="#2a54a1" fill-opacity="0.72"/>
<circle cx="335.6" cy="432" r="938.8" fill="#1b2c5f"/>
<rect x="0" y="0" width="359" height="865.5" fill="#1b2c5f"/>
<circle cx="209.1" cy="246.6" r="54.1" fill="#fff"/>
<circle cx="209.1" cy="191.9" r="52.5" fill="none" stroke="#fff" stroke-width="3.2"/>
<path d="M163.37,217.69 A52.5,52.5 0 0 0 254.83,217.69" fill="none" stroke="#0a0a0a" stroke-width="3.8"/>
</g>
</svg>
<div id="ft"></div>
<svg id="bg" width="2480" height="4613" viewBox="0 0 2480 4613">
<path fill="none" stroke="#1b2c5f" stroke-width="8.3" stroke-linecap="round" d="M397.20,1053.20 H1069.80 A54,54 0 0 1 1123.80,1107.20 V1376.90 A54,54 0 0 1 1069.80,1430.90 H233.50 A54,54 0 0 1 179.50,1376.90 V1296.25"/>
<rect x="862.37" y="1305.40" width="228.27" height="92.80" rx="15" fill="#1b2c5f"/>
<path fill="#ec1c24" d="M1056.48,1383.50 L1072.68,1353.90 H1059.88 V1316.70 H1053.08 V1353.90 H1040.28 Z"/>
<path fill="none" stroke="#1b2c5f" stroke-width="8.3" stroke-linecap="round" d="M1586.97,1053.20 H2248.60 A54,54 0 0 1 2302.60,1107.20 V1376.90 A54,54 0 0 1 2248.60,1430.90 H1411.90 A54,54 0 0 1 1357.90,1376.90 V1297.53"/>
<rect x="2040.87" y="1305.40" width="228.27" height="92.80" rx="15" fill="#1b2c5f"/>
<path fill="#b1d235" d="M2234.60,1316.70 L2250.80,1346.30 H2238.00 V1383.50 H2231.20 V1346.30 H2218.40 Z"/>
<path fill="none" stroke="#1b2c5f" stroke-width="8.3" stroke-linecap="round" d="M408.47,1567.20 H1069.80 A54,54 0 0 1 1123.80,1621.20 V1890.90 A54,54 0 0 1 1069.80,1944.90 H233.50 A54,54 0 0 1 179.50,1890.90 V1794.48"/>
<rect x="862.37" y="1819.40" width="228.27" height="92.80" rx="15" fill="#1b2c5f"/>
<path fill="#ec1c24" d="M1056.48,1830.70 L1072.68,1860.30 H1059.88 V1897.50 H1053.08 V1860.30 H1040.28 Z"/>
<path fill="none" stroke="#1b2c5f" stroke-width="8.3" stroke-linecap="round" d="M1552.42,1567.20 H2248.60 A54,54 0 0 1 2302.60,1621.20 V1890.90 A54,54 0 0 1 2248.60,1944.90 H1411.90 A54,54 0 0 1 1357.90,1890.90 V1789.98"/>
<rect x="1941.00" y="1819.40" width="328.14" height="92.80" rx="15" fill="#1b2c5f"/>
<path fill="#ec1c24" d="M2233.85,1828.20 L2250.05,1857.80 H2237.25 V1895.00 H2230.45 V1857.80 H2217.65 Z"/>
<path fill="none" stroke="#1b2c5f" stroke-width="8.3" stroke-linecap="round" d="M408.47,2081.20 H1069.80 A54,54 0 0 1 1123.80,2135.20 V2404.90 A54,54 0 0 1 1069.80,2458.90 H233.50 A54,54 0 0 1 179.50,2404.90 V2308.26"/>
<rect x="862.37" y="2333.40" width="228.27" height="92.80" rx="15" fill="#1b2c5f"/>
<path fill="#ec1c24" d="M1056.48,2411.50 L1072.68,2381.90 H1059.88 V2344.70 H1053.08 V2381.90 H1040.28 Z"/>
<path fill="none" stroke="#1b2c5f" stroke-width="8.3" stroke-linecap="round" d="M1586.97,2081.20 H2248.60 A54,54 0 0 1 2302.60,2135.20 V2404.90 A54,54 0 0 1 2248.60,2458.90 H1411.90 A54,54 0 0 1 1357.90,2404.90 V2293.46"/>
<rect x="2040.87" y="2333.40" width="228.27" height="92.80" rx="15" fill="#1b2c5f"/>
<path fill="#b1d235" d="M2234.60,2344.70 L2250.80,2374.30 H2238.00 V2411.50 H2231.20 V2374.30 H2218.40 Z"/>
<path fill="none" stroke="#1b2c5f" stroke-width="8.3" stroke-linecap="round" d="M408.47,2595.20 H1069.80 A54,54 0 0 1 1123.80,2649.20 V2918.90 A54,54 0 0 1 1069.80,2972.90 H233.50 A54,54 0 0 1 179.50,2918.90 V2842.76"/>
<rect x="854.86" y="2847.40" width="235.78" height="92.80" rx="15" fill="#1b2c5f"/>
<path fill="#ec1c24" d="M1056.85,2925.50 L1073.05,2895.90 H1060.25 V2858.70 H1053.45 V2895.90 H1040.65 Z"/>
<path fill="none" stroke="#1b2c5f" stroke-width="8.3" stroke-linecap="round" d="M1586.97,2595.20 H2248.60 A54,54 0 0 1 2302.60,2649.20 V2918.90 A54,54 0 0 1 2248.60,2972.90 H1411.90 A54,54 0 0 1 1357.90,2918.90 V2827.74"/>
<rect x="2034.86" y="2847.40" width="234.28" height="92.80" rx="15" fill="#1b2c5f"/>
<path fill="#ec1c24" d="M2234.60,2925.50 L2250.80,2895.90 H2238.00 V2858.70 H2231.20 V2895.90 H2218.40 Z"/>
<path fill="none" stroke="#1b2c5f" stroke-width="8.3" stroke-linecap="round" d="M408.47,3109.20 H1069.80 A54,54 0 0 1 1123.80,3163.20 V3432.90 A54,54 0 0 1 1069.80,3486.90 H233.50 A54,54 0 0 1 179.50,3432.90 V3336.48"/>
<rect x="862.37" y="3361.40" width="228.27" height="92.80" rx="15" fill="#1b2c5f"/>
<path fill="#ec1c24" d="M1056.85,3439.50 L1073.05,3409.90 H1060.25 V3372.70 H1053.45 V3409.90 H1040.65 Z"/>
<path fill="none" stroke="#1b2c5f" stroke-width="8.3" stroke-linecap="round" d="M1586.97,3109.20 H2248.60 A54,54 0 0 1 2302.60,3163.20 V3432.90 A54,54 0 0 1 2248.60,3486.90 H1411.90 A54,54 0 0 1 1357.90,3432.90 V3335.73"/>
<rect x="2040.87" y="3361.40" width="228.27" height="92.80" rx="15" fill="#1b2c5f"/>
<path fill="#b1d235" d="M2234.60,3372.70 L2250.80,3402.30 H2238.00 V3439.50 H2231.20 V3402.30 H2218.40 Z"/>
<path fill="none" stroke="#1b2c5f" stroke-width="8.3" stroke-linecap="round" d="M408.47,3623.20 H1069.80 A54,54 0 0 1 1123.80,3677.20 V3946.90 A54,54 0 0 1 1069.80,4000.90 H233.50 A54,54 0 0 1 179.50,3946.90 V3850.71"/>
<rect x="862.37" y="3875.40" width="228.27" height="92.80" rx="15" fill="#1b2c5f"/>
<path fill="#b1d235" d="M1056.48,3888.70 L1072.68,3918.30 H1059.88 V3955.50 H1053.08 V3918.30 H1040.28 Z"/>
<path fill="none" stroke="#1b2c5f" stroke-width="8.3" stroke-linecap="round" d="M1586.97,3623.20 H2248.60 A54,54 0 0 1 2302.60,3677.20 V3946.90 A54,54 0 0 1 2248.60,4000.90 H1411.90 A54,54 0 0 1 1357.90,3946.90 V3850.26"/>
<rect x="2040.87" y="3875.40" width="228.27" height="92.80" rx="15" fill="#1b2c5f"/>
<path fill="#ec1c24" d="M2234.60,3887.70 L2250.80,3917.30 H2238.00 V3954.50 H2231.20 V3917.30 H2218.40 Z"/>
<rect x="193" y="4079.6" width="150.7" height="92.5" rx="14.7" fill="#1b2c5f"/>
<path fill="#bec0c0" d="M223.50,4093.00 L239.90,4122.60 H227.00 V4159.60 H220.00 V4122.60 H207.10 Z"/>
<path fill="#bec0c0" d="M268.30,4159.40 L284.60,4129.90 H271.80 V4092.70 H264.80 V4129.90 H252.00 Z"/>
<path fill="#bec0c0" d="M313.1,4093 L329.5,4122.5 H316.3 V4129.9 H329.5 L313.1,4159.4 L296.70000000000005,4129.9 H309.90000000000003 V4122.5 H296.70000000000005 Z"/>
<rect x="374.9" y="4194.3" width="36" height="35.5" fill="#b2d235"/>
<rect x="861.7" y="4194.3" width="35.5" height="35.5" fill="#ec1c24"/>

<circle cx="225.3" cy="4406.5" r="34.7" fill="#fff"/>
<g fill="none" stroke="#fff" stroke-width="3.9">
<circle cx="216.8" cy="4532.4" r="27.5"/>
<ellipse cx="216.8" cy="4532.4" rx="14.6" ry="27.5"/>
<path d="M189.3,4532.4 H244.3 M196.7,4516.4 Q216.8,4524.6 236.9,4516.4 M196.7,4548.4 Q216.8,4540.2 236.9,4548.4"/>
</g>
<g transform="translate(690,4490) scale(0.0722)" fill="#fff"><path fill-rule="evenodd" d="M235,212 H490 L1050,958 H795 Z M385,290 L835,880 H900 L450,290 Z"/><path d="M880,212 H1000 L730,525 L670,450 Z M245,958 H375 L600,705 L540,620 Z"/></g>
<rect x="1172.6" y="4502" width="59.7" height="60" rx="3.5" fill="#fff"/>
<path fill="#1b2c5f" d="M1213.6,4562 V4538.8 H1221.4 L1222.6,4529.7 H1213.6 V4523.9 C1213.6,4521.3 1214.3,4519.5 1218.1,4519.5 H1222.9 V4511.4 C1222.1,4511.3 1219.2,4511 1215.9,4511 C1209,4511 1204.2,4515.2 1204.2,4523 V4529.7 H1196.4 V4538.8 H1204.2 V4562 Z"/>
<rect x="1623.5" y="4508.7" width="68.2" height="46.8" rx="13" fill="#fff"/>
<path fill="#1b2c5f" d="M1650.5,4522.5 L1667.5,4532.1 L1650.5,4541.7 Z"/>

</svg>
<svg class="ic" style="left:150px;top:1030px" width="300" height="300" viewBox="0 0 1385 1385"><g fill="#1b2c5f"><path d="M225.63,252.54000000000002 C228.375,210.45 255.825,183.0 297.0,183.0 C338.175,183.0 367.455,210.45 370.2,252.54000000000002 L378.435,252.54000000000002 Q383.925,252.54000000000002 383.925,261.69 Q383.925,272.67 374.775,272.67 L219.225,272.67 Q210.075,272.67 210.075,261.69 Q210.075,252.54000000000002 217.39499999999998,252.54000000000002 Z"/><rect x="260.85749999999996" y="173.85" width="10.065000000000001" height="31.11" fill="#fff" stroke="none"/><rect x="291.9675" y="173.85" width="10.065000000000001" height="31.11" fill="#fff" stroke="none"/><rect x="323.0775" y="173.85" width="10.065000000000001" height="31.11" fill="#fff" stroke="none"/><path d="M223.8,279.99 L370.2,279.99 C370.2,329.4 342.75,362.34000000000003 297.0,362.34000000000003 C251.25,362.34000000000003 223.8,329.4 223.8,279.99 Z"/><path d="M242.1,379.725 L351.9,379.725 C345.495,411.75 319.875,448.35 297.0,448.35 C274.125,448.35 248.505,411.75 242.1,379.725 Z"/><path d="M224.715,382.47 C164.325,398.025 135.045,512.4000000000001 138.70499999999998,640.5 C139.62,677.1 159.75,688.08 178.05,681.675 C193.605,675.27 193.605,658.8 191.77499999999998,631.35 C189.945,576.45 200.925,512.4000000000001 211.905,475.8 L214.64999999999998,535.2750000000001 C221.055,484.95 226.54500000000002,430.05 224.715,382.47 Z"/><path d="M369.28499999999997,382.47 C429.675,398.025 458.95500000000004,512.4000000000001 455.295,640.5 C454.38,677.1 434.25,688.08 415.95,681.675 C400.395,675.27 400.395,658.8 402.225,631.35 C404.055,576.45 393.075,512.4000000000001 382.095,475.8 L379.35,535.2750000000001 C372.945,484.95 367.455,430.05 369.28499999999997,382.47 Z"/><path d="M168.9,697.23 C182.625,697.23 191.77499999999998,690.825 198.18,681.675 L198.18,713.7 L187.2,713.7 C178.05,711.87 171.64499999999998,706.38 168.9,697.23 Z"/><path d="M425.1,697.23 C411.375,697.23 402.225,690.825 395.82,681.675 L395.82,713.7 L406.8,713.7 C415.95,711.87 422.355,706.38 425.1,697.23 Z"/><path d="M210.075,608.475 L383.925,608.475 L383.925,942.45 C383.925,965.325 365.625,979.0500000000001 344.58,979.0500000000001 C321.705,979.0500000000001 303.405,965.325 303.405,942.45 L303.405,649.6500000000001 L290.595,649.6500000000001 L290.595,942.45 C290.595,965.325 272.295,979.0500000000001 251.25,979.0500000000001 C228.375,979.0500000000001 210.075,965.325 210.075,942.45 Z"/><path d="M720.63,252.54000000000002 C723.375,210.45 750.825,183.0 792.0,183.0 C833.175,183.0 862.455,210.45 865.2,252.54000000000002 L873.435,252.54000000000002 Q878.925,252.54000000000002 878.925,261.69 Q878.925,272.67 869.775,272.67 L714.225,272.67 Q705.075,272.67 705.075,261.69 Q705.075,252.54000000000002 712.395,252.54000000000002 Z"/><rect x="755.8575" y="173.85" width="10.065000000000001" height="31.11" fill="#fff" stroke="none"/><rect x="786.9675" y="173.85" width="10.065000000000001" height="31.11" fill="#fff" stroke="none"/><rect x="818.0775" y="173.85" width="10.065000000000001" height="31.11" fill="#fff" stroke="none"/><path d="M718.8,279.99 L865.2,279.99 C865.2,329.4 837.75,362.34000000000003 792.0,362.34000000000003 C746.25,362.34000000000003 718.8,329.4 718.8,279.99 Z"/><path d="M737.1,379.725 L846.9,379.725 C840.495,411.75 814.875,448.35 792.0,448.35 C769.125,448.35 743.505,411.75 737.1,379.725 Z"/><path d="M719.715,382.47 C659.325,398.025 630.045,512.4000000000001 633.7049999999999,640.5 C634.62,677.1 654.75,688.08 673.05,681.675 C688.605,675.27 688.605,658.8 686.775,631.35 C684.9449999999999,576.45 695.925,512.4000000000001 706.905,475.8 L709.65,535.2750000000001 C716.055,484.95 721.545,430.05 719.715,382.47 Z"/><path d="M864.285,382.47 C924.675,398.025 953.955,512.4000000000001 950.2950000000001,640.5 C949.38,677.1 929.25,688.08 910.95,681.675 C895.395,675.27 895.395,658.8 897.225,631.35 C899.0550000000001,576.45 888.075,512.4000000000001 877.095,475.8 L874.35,535.2750000000001 C867.945,484.95 862.455,430.05 864.285,382.47 Z"/><path d="M663.9,697.23 C677.625,697.23 686.775,690.825 693.18,681.675 L693.18,713.7 L682.2,713.7 C673.05,711.87 666.645,706.38 663.9,697.23 Z"/><path d="M920.1,697.23 C906.375,697.23 897.225,690.825 890.82,681.675 L890.82,713.7 L901.8,713.7 C910.95,711.87 917.355,706.38 920.1,697.23 Z"/><path d="M705.075,608.475 L878.925,608.475 L878.925,942.45 C878.925,965.325 860.625,979.0500000000001 839.58,979.0500000000001 C816.705,979.0500000000001 798.405,965.325 798.405,942.45 L798.405,649.6500000000001 L785.595,649.6500000000001 L785.595,942.45 C785.595,965.325 767.295,979.0500000000001 746.25,979.0500000000001 C723.375,979.0500000000001 705.075,965.325 705.075,942.45 Z"/><g stroke="#fff" stroke-width="12" stroke-linejoin="round"><path d="M467.0,186.0 C470.0,140.0 500.0,110.0 545.0,110.0 C590.0,110.0 622.0,140.0 625.0,186.0 L634.0,186.0 Q640.0,186.0 640.0,196.0 Q640.0,208.0 630.0,208.0 L460.0,208.0 Q450.0,208.0 450.0,196.0 Q450.0,186.0 458.0,186.0 Z"/><rect x="505.5" y="100.0" width="11.0" height="34.0" fill="#fff" stroke="none"/><rect x="539.5" y="100.0" width="11.0" height="34.0" fill="#fff" stroke="none"/><rect x="573.5" y="100.0" width="11.0" height="34.0" fill="#fff" stroke="none"/><path d="M465.0,216.0 L625.0,216.0 C625.0,270.0 595.0,306.0 545.0,306.0 C495.0,306.0 465.0,270.0 465.0,216.0 Z"/><path d="M485.0,325.0 L605.0,325.0 C598.0,360.0 570.0,400.0 545.0,400.0 C520.0,400.0 492.0,360.0 485.0,325.0 Z"/><path d="M466.0,328.0 C400.0,345.0 368.0,470.0 372.0,610.0 C373.0,650.0 395.0,662.0 415.0,655.0 C432.0,648.0 432.0,630.0 430.0,600.0 C428.0,540.0 440.0,470.0 452.0,430.0 L455.0,495.0 C462.0,440.0 468.0,380.0 466.0,328.0 Z"/><path d="M624.0,328.0 C690.0,345.0 722.0,470.0 718.0,610.0 C717.0,650.0 695.0,662.0 675.0,655.0 C658.0,648.0 658.0,630.0 660.0,600.0 C662.0,540.0 650.0,470.0 638.0,430.0 L635.0,495.0 C628.0,440.0 622.0,380.0 624.0,328.0 Z"/><path d="M405.0,672.0 C420.0,672.0 430.0,665.0 437.0,655.0 L437.0,690.0 L425.0,690.0 C415.0,688.0 408.0,682.0 405.0,672.0 Z"/><path d="M685.0,672.0 C670.0,672.0 660.0,665.0 653.0,655.0 L653.0,690.0 L665.0,690.0 C675.0,688.0 682.0,682.0 685.0,672.0 Z"/><path d="M450.0,575.0 L640.0,575.0 L640.0,940.0 C640.0,965.0 620.0,980.0 597.0,980.0 C572.0,980.0 552.0,965.0 552.0,940.0 L552.0,620.0 L538.0,620.0 L538.0,940.0 C538.0,965.0 518.0,980.0 495.0,980.0 C470.0,980.0 450.0,965.0 450.0,940.0 Z"/></g><path d="M467.0,186.0 C470.0,140.0 500.0,110.0 545.0,110.0 C590.0,110.0 622.0,140.0 625.0,186.0 L634.0,186.0 Q640.0,186.0 640.0,196.0 Q640.0,208.0 630.0,208.0 L460.0,208.0 Q450.0,208.0 450.0,196.0 Q450.0,186.0 458.0,186.0 Z"/><rect x="505.5" y="100.0" width="11.0" height="34.0" fill="#fff" stroke="none"/><rect x="539.5" y="100.0" width="11.0" height="34.0" fill="#fff" stroke="none"/><rect x="573.5" y="100.0" width="11.0" height="34.0" fill="#fff" stroke="none"/><path d="M465.0,216.0 L625.0,216.0 C625.0,270.0 595.0,306.0 545.0,306.0 C495.0,306.0 465.0,270.0 465.0,216.0 Z"/><path d="M485.0,325.0 L605.0,325.0 C598.0,360.0 570.0,400.0 545.0,400.0 C520.0,400.0 492.0,360.0 485.0,325.0 Z"/><path d="M466.0,328.0 C400.0,345.0 368.0,470.0 372.0,610.0 C373.0,650.0 395.0,662.0 415.0,655.0 C432.0,648.0 432.0,630.0 430.0,600.0 C428.0,540.0 440.0,470.0 452.0,430.0 L455.0,495.0 C462.0,440.0 468.0,380.0 466.0,328.0 Z"/><path d="M624.0,328.0 C690.0,345.0 722.0,470.0 718.0,610.0 C717.0,650.0 695.0,662.0 675.0,655.0 C658.0,648.0 658.0,630.0 660.0,600.0 C662.0,540.0 650.0,470.0 638.0,430.0 L635.0,495.0 C628.0,440.0 622.0,380.0 624.0,328.0 Z"/><path d="M405.0,672.0 C420.0,672.0 430.0,665.0 437.0,655.0 L437.0,690.0 L425.0,690.0 C415.0,688.0 408.0,682.0 405.0,672.0 Z"/><path d="M685.0,672.0 C670.0,672.0 660.0,665.0 653.0,655.0 L653.0,690.0 L665.0,690.0 C675.0,688.0 682.0,682.0 685.0,672.0 Z"/><path d="M450.0,575.0 L640.0,575.0 L640.0,940.0 C640.0,965.0 620.0,980.0 597.0,980.0 C572.0,980.0 552.0,965.0 552.0,940.0 L552.0,620.0 L538.0,620.0 L538.0,940.0 C538.0,965.0 518.0,980.0 495.0,980.0 C470.0,980.0 450.0,965.0 450.0,940.0 Z"/></g></svg>
<svg class="ic" style="left:1330px;top:1030px" width="300" height="300" viewBox="0 0 1385 1385"><g fill="#1b2c5f">
<path d="M272,337 L640,125 C690,96 730,105 755,150 L858,337 Z"/>
<path d="M345,337 L665,152 Q695,138 715,165 L420,337 Z" fill="#fff"/>
<path d="M650,337 L772,262 L815,337 Z" fill="#fff"/>
<path d="M200,337 L860,337 Q930,337 930,407 L930,470 Q930,490 910,490 L775,490 A150,150 0 0 0 775,795 L910,795 Q930,795 930,815 L930,875 Q930,945 860,945 L200,945 Q130,945 130,875 L130,407 Q130,337 200,337 Z"/>
<path d="M777,527 L918,527 Q968,527 968,577 L968,702 Q968,752 918,752 L777,752 A112.5,112.5 0 0 1 777,527 Z"/>
<circle cx="776" cy="640" r="40" fill="#fff"/>
</g></svg>
<svg class="ic" style="left:150px;top:1540px" width="300" height="300" viewBox="0 0 1385 1385"><g fill="#1b2c5f">
<circle cx="540" cy="232" r="102"/>
<path d="M385,910 V560 C385,440 450,362 545,362 C640,362 705,440 705,560 V910 Z"/>
<circle cx="345" cy="337" r="69"/><circle cx="735" cy="337" r="69"/>
<path d="M240,830 V590 C240,505 285,450 350,450 Q368,450 381,456 C365,490 358,530 358,565 L360,830 Z"/>
<path d="M850,830 V590 C850,505 805,450 740,450 Q722,450 709,456 C725,490 732,530 732,565 L730,830 Z"/>
<circle cx="207" cy="398" r="47"/><circle cx="873" cy="398" r="47"/>
<path d="M135,765 V590 C135,535 170,497 215,497 Q226,497 234,500 C220,530 214,560 214,590 L215,765 Z"/>
<path d="M955,765 V590 C955,535 920,497 875,497 Q864,497 856,500 C870,530 876,560 876,590 L875,765 Z"/>
</g></svg>
<svg class="ic" style="left:1330px;top:1540px" width="300" height="300" viewBox="0 0 1385 1385"><g fill="#1b2c5f">
<circle cx="498" cy="249" r="124"/>
<path d="M305,943 V610 C305,490 385,407 498,407 C611,407 692,490 692,610 V943 Z"/>
<circle cx="262" cy="377" r="84"/><circle cx="735" cy="377" r="84"/>
<path d="M128,867 V630 C128,550 185,493 260,493 Q282,493 300,498 C283,535 274,570 274,610 L275,867 Z"/>
<path d="M870,867 V630 C870,550 813,493 738,493 Q716,493 698,498 C715,535 724,570 724,610 L723,867 Z"/>
<text x="498" y="792" text-anchor="middle" font-family="Liberation Sans, sans-serif" font-weight="700" font-size="330" fill="#fff" stroke="#fff" stroke-width="9" textLength="256" lengthAdjust="spacingAndGlyphs">%</text>
</g></svg>
<svg class="ic" style="left:150px;top:2050px" width="300" height="300" viewBox="0 0 1385 1385"><g fill="#1b2c5f">
<rect x="302" y="145" width="76" height="35" rx="5"/>
<rect x="302" y="200" width="76" height="248"/>
<path d="M400,290 L514,262 V448 H400 Z M536,290 L650,262 V448 H536 Z M673,290 L786,262 V448 H673 Z"/>
<rect x="433" y="320" width="48" height="48" fill="#fff"/><rect x="569" y="320" width="48" height="48" fill="#fff"/><rect x="706" y="320" width="48" height="48" fill="#fff"/>
<rect x="258" y="470" width="569" height="20"/>
<clipPath id="hg"><rect x="0" y="542" width="1385" height="900"/></clipPath><g clip-path="url(#hg)"><path d="M854.2,467.8 L937.3,487.7 L937.3,596.3 L854.2,616.2 L816.1,708.2 L860.7,781.0 L784.0,857.7 L711.2,813.1 L619.2,851.2 L599.3,934.3 L490.7,934.3 L470.8,851.2 L378.8,813.1 L306.0,857.7 L229.3,781.0 L273.9,708.2 L235.8,616.2 L152.7,596.3 L152.7,487.7 L235.8,467.8 L273.9,375.8 L229.3,303.0 L306.0,226.3 L378.8,270.9 L470.8,232.8 L490.7,149.7 L599.3,149.7 L619.2,232.8 L711.2,270.9 L784.0,226.3 L860.7,303.0 L816.1,375.8 Z" stroke="#1b2c5f" stroke-width="26" stroke-linejoin="round"/><circle cx="545" cy="542" r="179" fill="none" stroke="#fff" stroke-width="42"/></g>
</g></svg>
<svg class="ic" style="left:1330px;top:2050px" width="300" height="300" viewBox="0 0 1385 1385"><g fill="#1b2c5f"><mask id="gw"><rect x="0" y="0" width="1385" height="1385" fill="#fff"/><circle cx="538" cy="555" r="225" fill="#000"/><rect x="375" y="640" width="326" height="500" fill="#000"/></mask><g mask="url(#gw)"><path d="M462.8,241.9 L481.6,159.0 L594.4,159.0 L613.2,241.9 L706.2,280.4 L778.2,235.1 L857.9,314.8 L812.6,386.8 L851.1,479.8 L934.0,498.6 L934.0,611.4 L851.1,630.2 L812.6,723.2 L857.9,795.2 L778.2,874.9 L706.2,829.6 L613.2,868.1 L594.4,951.0 L481.6,951.0 L462.8,868.1 L369.8,829.6 L297.8,874.9 L218.1,795.2 L263.4,723.2 L224.9,630.2 L142.0,611.4 L142.0,498.6 L224.9,479.8 L263.4,386.8 L218.1,314.8 L297.8,235.1 L369.8,280.4 Z" stroke="#1b2c5f" stroke-width="30" stroke-linejoin="round"/></g><path d="M475,690 A152,152 0 0 1 468,420 Q490,412 493,440 L505,537 H570 L582,440 Q585,412 607,420 A152,152 0 0 1 602,690 L602,940 Q602,965 577,965 L500,965 Q475,965 475,940 Z"/></g></svg>
<svg class="ic" style="left:150px;top:2570px" width="300" height="300" viewBox="0 0 1385 1385"><g fill="#1b2c5f">
<circle cx="803" cy="265" r="148"/>
<rect x="133" y="229" width="620" height="71"/>
<rect x="133" y="290" width="74" height="124"/><rect x="282" y="290" width="73" height="124"/>
<path d="M801,400 C795,470 830,505 865,540 C900,575 915,610 915,655 C915,730 860,786 790,786 L735,786" fill="none" stroke="#1b2c5f" stroke-width="74"/>
<path d="M135,601 H620 L737,748 H760 V823 H737 L620,970 H135 Z"/>
</g></svg>
<svg class="ic" style="left:1330px;top:2570px" width="300" height="300" viewBox="0 0 1385 1385"><g fill="#1b2c5f">
<path d="M510,118 C856,118 890,156 890,543 C890,930 856,968 510,968 C164,968 130,930 130,543 C130,156 164,118 510,118 Z"/>
<rect x="308" y="340" width="404" height="67" rx="33.5" fill="#fff"/>
<rect x="308" y="509" width="404" height="67" rx="33.5" fill="#fff"/>
<rect x="308" y="678" width="277" height="67" rx="33.5" fill="#fff"/>
</g></svg>
<svg class="ic" style="left:150px;top:3080px" width="300" height="300" viewBox="0 0 1385 1385"><g fill="#1b2c5f">
<path d="M125,440 L533,138 L942,440 V492 H895 L533,222 L170,492 H125 Z"/>
<path d="M771,185 H850 V315 L771,257 Z"/>
<path d="M188,535 L533,281 L830,500 H665 V613 H555 V723 H447 V833 H341 V945 H188 Z"/>
<rect x="711" y="551" width="170" height="63"/>
<rect x="604" y="660" width="171" height="63"/><rect x="818" y="660" width="63" height="63"/>
<rect x="495" y="771" width="170" height="63"/><rect x="711" y="771" width="170" height="63"/>
<rect x="388" y="882" width="170" height="63"/><rect x="604" y="882" width="171" height="63"/><rect x="818" y="882" width="63" height="63"/>
</g></svg>
<svg class="ic" style="left:1330px;top:3080px" width="300" height="300" viewBox="0 0 1385 1385"><g fill="#1b2c5f">
<rect x="350" y="138" width="357" height="305" rx="26"/>
<path d="M239,650 V334 H836 V650" fill="none" stroke="#1b2c5f" stroke-width="49" stroke-linejoin="round"/>
<rect x="513" y="430" width="49" height="220"/>
<rect x="129" y="632" width="221" height="203" rx="26"/>
<rect x="427" y="632" width="221" height="203" rx="26"/>
<rect x="725" y="632" width="221" height="203" rx="26"/>
</g></svg>
<svg class="ic" style="left:150px;top:3600px" width="300" height="300" viewBox="0 0 1385 1385"><g fill="#1b2c5f"><path d="M139,270 V161 Q139,111 189,111 H811 Q861,111 861,161 V878 Q861,928 811,928 H189 Q139,928 139,878 V770 A45.5,45.5 0 0 1 230,770 V828 H771 V212 H230 V270 A45.5,45.5 0 0 1 139,270 Z"/>
<path d="M191,520 H470" stroke="#1b2c5f" stroke-width="104" stroke-linecap="round" fill="none"/>
<path d="M502,412 L636,520 L502,628 Z" stroke="#1b2c5f" stroke-width="90" stroke-linejoin="round"/>
</g></svg>
<svg class="ic" style="left:1330px;top:3600px" width="300" height="300" viewBox="0 0 1385 1385"><g fill="#1b2c5f"><path d="M129,270 V161 Q129,111 179,111 H800 Q850,111 850,161 V878 Q850,928 800,928 H179 Q129,928 129,878 V770 A45.5,45.5 0 0 1 220,770 V828 H760 V212 H220 V270 A45.5,45.5 0 0 1 129,270 Z"/>
<path d="M618,520 H340" stroke="#1b2c5f" stroke-width="104" stroke-linecap="round" fill="none"/>
<path d="M309,412 L175,520 L309,628 Z" stroke="#1b2c5f" stroke-width="90" stroke-linejoin="round"/>
</g></svg>
<span class="t" style="left:295.93px;top:173.30px;font-size:49.2px;color:#fff;transform:scaleX(0.8921);">Urząd Statystyczny</span>
<span class="t" style="left:300.00px;top:230.50px;font-size:34.2px;color:#fff;transform:scaleX(1.0023);">w Poznaniu</span>
<span class="t" style="left:152.11px;top:572.00px;font-size:72.2px;font-weight:700;color:#fff;transform:scaleX(0.9780);">POZNAŃ</span>
<span class="t" style="left:155.20px;top:656.70px;font-size:64.5px;color:#fff;transform:scaleX(0.8871);">WYBRANE DANE ZA LUTY 2026</span>
<span class="t" style="left:403.84px;top:1118.19px;font-size:48.7px;transform:scaleX(1.0569);">Przeciętne zatrudnienie</span>
<span class="t" style="left:405.29px;top:1172.26px;font-size:48.7px;transform:scaleX(1.0501);">w sektorze przedsiębiorstw</span>
<span class="t" style="left:351.88px;top:1308.57px;font-size:73.6px;font-weight:700;-webkit-text-stroke:0.9px currentColor;transform:scaleX(0.9067);">167,3 tys.</span>
<span class="t" style="left:899.65px;top:1327.00px;font-size:46.8px;font-weight:700;color:#fff;-webkit-text-stroke:0.5px currentColor;transform:scaleX(1.0191);">2,4%</span>
<span class="t" style="left:1579.66px;top:1115.19px;font-size:48.7px;transform:scaleX(1.0330);">Przeciętne miesięczne</span>
<span class="t" style="left:1581.69px;top:1169.25px;font-size:48.7px;transform:scaleX(1.0624);">wynagrodzenie brutto</span>
<span class="t" style="left:1581.69px;top:1224.07px;font-size:48.7px;transform:scaleX(1.0498);">w sektorze przedsiębiorstw</span>
<span class="t" style="left:1534.56px;top:1311.95px;font-size:73.6px;font-weight:700;-webkit-text-stroke:0.9px currentColor;transform:scaleX(0.9887);">10 346,99 zł</span>
<span class="t" style="left:2074.88px;top:1327.00px;font-size:46.8px;font-weight:700;color:#fff;-webkit-text-stroke:0.5px currentColor;transform:scaleX(1.0144);">7,6%</span>
<span class="t" style="left:404.04px;top:1628.44px;font-size:48.7px;transform:scaleX(1.0632);">Bezrobotni zarejestrowani*</span>
<span class="t" style="left:358.56px;top:1821.44px;font-size:73.6px;font-weight:700;-webkit-text-stroke:0.9px currentColor;transform:scaleX(0.9542);">5,3 tys.</span>
<span class="t" style="left:904.92px;top:1841.00px;font-size:46.8px;font-weight:700;color:#fff;-webkit-text-stroke:0.5px currentColor;">28,2</span>
<span class="t" style="left:1579.21px;top:1629.19px;font-size:48.7px;transform:scaleX(1.0532);">Stopa bezrobocia*</span>
<span class="t" style="left:1546.03px;top:1821.44px;font-size:73.6px;font-weight:700;-webkit-text-stroke:0.9px currentColor;transform:scaleX(0.9363);">1,5%</span>
<span class="t" style="left:1960.29px;top:1839.30px;font-size:46.8px;font-weight:700;color:#fff;-webkit-text-stroke:0.5px currentColor;transform:scaleX(0.9843);">0,3 p.proc.</span>
<span class="t" style="left:404.62px;top:2140.18px;font-size:48.7px;transform:scaleX(1.0312);">Produkcja sprzedana</span>
<span class="t" style="left:404.93px;top:2194.25px;font-size:48.7px;transform:scaleX(1.0464);">przemysłu</span>
<span class="t" style="left:357.08px;top:2336.19px;font-size:73.6px;font-weight:700;-webkit-text-stroke:0.9px currentColor;transform:scaleX(0.9820);">4 684,4 mln zł</span>
<span class="t" style="left:886.13px;top:2352.50px;font-size:46.8px;font-weight:700;color:#fff;-webkit-text-stroke:0.5px currentColor;transform:scaleX(1.0155);">2,8%</span>
<span class="t" style="left:998.28px;top:2350.50px;font-size:46.8px;font-weight:700;color:#fff;-webkit-text-stroke:0.5px currentColor;transform:scaleX(1.0249);">**</span>
<span class="t" style="left:1583.45px;top:2142.44px;font-size:48.7px;transform:scaleX(1.0248);">Produkcja</span>
<span class="t" style="left:1583.92px;top:2195.75px;font-size:48.7px;transform:scaleX(1.0574);">budowlano-montażowa</span>
<span class="t" style="left:1534.65px;top:2335.89px;font-size:73.6px;font-weight:700;-webkit-text-stroke:0.9px currentColor;transform:scaleX(0.9553);">275,3 mln zł</span>
<span class="t" style="left:2059.05px;top:2353.50px;font-size:46.8px;font-weight:700;color:#fff;-webkit-text-stroke:0.5px currentColor;transform:scaleX(1.0398);">85,0%</span>
<span class="t" style="left:401.97px;top:2656.44px;font-size:48.7px;transform:scaleX(1.0374);">Mieszkania oddane</span>
<span class="t" style="left:401.63px;top:2709.75px;font-size:48.7px;transform:scaleX(1.0427);">do użytkowania</span>
<span class="t" style="left:351.75px;top:2849.44px;font-size:73.6px;font-weight:700;-webkit-text-stroke:0.9px currentColor;transform:scaleX(0.9396);">138</span>
<span class="t" style="left:883.13px;top:2868.00px;font-size:46.8px;font-weight:700;color:#fff;-webkit-text-stroke:0.5px currentColor;transform:scaleX(1.0174);">55,6%</span>
<span class="t" style="left:1579.18px;top:2633.53px;font-size:48.7px;transform:scaleX(1.0406);">Mieszkania, na których</span>
<span class="t" style="left:1580.66px;top:2683.84px;font-size:48.7px;transform:scaleX(1.0454);">budowę wydano pozwolenia</span>
<span class="t" style="left:1580.42px;top:2734.16px;font-size:48.7px;transform:scaleX(1.0482);">lub dokonano zgłoszenia</span>
<span class="t" style="left:1579.41px;top:2783.71px;font-size:48.7px;transform:scaleX(1.0661);">z projektem budowlanym</span>
<span class="t" style="left:1533.94px;top:2856.95px;font-size:73.6px;font-weight:700;-webkit-text-stroke:0.9px currentColor;transform:scaleX(0.9547);">164</span>
<span class="t" style="left:2057.10px;top:2869.00px;font-size:46.8px;font-weight:700;color:#fff;-webkit-text-stroke:0.5px currentColor;transform:scaleX(1.0346);">84,4%</span>
<span class="t" style="left:405.28px;top:3170.44px;font-size:48.7px;transform:scaleX(1.0348);">Mieszkania, których</span>
<span class="t" style="left:404.49px;top:3223.75px;font-size:48.7px;transform:scaleX(1.0455);">budowę rozpoczęto</span>
<span class="t" style="left:353.96px;top:3371.70px;font-size:73.6px;font-weight:700;-webkit-text-stroke:0.9px currentColor;transform:scaleX(0.9516);">139</span>
<span class="t" style="left:880.55px;top:3382.20px;font-size:46.8px;font-weight:700;color:#fff;-webkit-text-stroke:0.5px currentColor;transform:scaleX(1.0455);">75,0%</span>
<span class="t" style="left:1583.33px;top:3170.44px;font-size:48.7px;transform:scaleX(1.0533);">Podmioty gospodarki</span>
<span class="t" style="left:1583.95px;top:3223.75px;font-size:48.7px;transform:scaleX(1.0482);">narodowej w rejestrze</span>
<span class="t" style="left:1583.96px;top:3279.32px;font-size:48.7px;transform:scaleX(0.8976);">REGON*</span>
<span class="t" style="left:1533.93px;top:3363.82px;font-size:73.6px;font-weight:700;-webkit-text-stroke:0.9px currentColor;transform:scaleX(0.9578);">138,0 tys.</span>
<span class="t" style="left:2077.40px;top:3383.00px;font-size:46.8px;font-weight:700;color:#fff;-webkit-text-stroke:0.5px currentColor;transform:scaleX(1.0119);">2,3%</span>
<span class="t" style="left:404.07px;top:3684.44px;font-size:48.7px;transform:scaleX(1.0556);">Podmioty nowo</span>
<span class="t" style="left:402.90px;top:3737.75px;font-size:48.7px;transform:scaleX(1.0475);">zarejestrowane w rejestrze</span>
<span class="t" style="left:404.36px;top:3793.32px;font-size:48.7px;transform:scaleX(0.8708);">REGON</span>
<span class="t" style="left:358.49px;top:3875.64px;font-size:73.6px;font-weight:700;-webkit-text-stroke:0.9px currentColor;transform:scaleX(0.9869);">835</span>
<span class="t" style="left:897.40px;top:3897.00px;font-size:46.8px;font-weight:700;color:#fff;-webkit-text-stroke:0.5px currentColor;transform:scaleX(1.0119);">2,5%</span>
<span class="t" style="left:1583.11px;top:3684.44px;font-size:48.7px;transform:scaleX(1.0539);">Podmioty wyrejestrowane</span>
<span class="t" style="left:1580.75px;top:3737.75px;font-size:48.7px;transform:scaleX(1.0717);">z rejestru</span>
<span class="t" style="left:1808.49px;top:3737.75px;font-size:48.7px;transform:scaleX(0.8761);">REGON</span>
<span class="t" style="left:1535.76px;top:3877.44px;font-size:73.6px;font-weight:700;-webkit-text-stroke:0.9px currentColor;transform:scaleX(1.0023);">539</span>
<span class="t" style="left:2074.10px;top:3897.00px;font-size:46.8px;font-weight:700;color:#fff;-webkit-text-stroke:0.5px currentColor;transform:scaleX(1.0112);">0,9%</span>
<span class="t" style="left:367.10px;top:4107.10px;font-size:36.4px;color:#000;transform:scaleX(1.0565);">Wzrost/spadek/bez zmian w stosunku do analogicznego okresu roku poprzedniego</span>
<span class="t" style="left:430.16px;top:4194.60px;font-size:36.4px;color:#000;transform:scaleX(1.0420);">Zjawisko korzystne</span>
<span class="t" style="left:916.15px;top:4194.60px;font-size:36.4px;color:#000;transform:scaleX(1.0504);">Zjawisko niekorzystne</span>
<span class="t" style="left:1858.53px;top:4092.50px;font-size:56px;transform:scaleX(0.9750);">*</span>
<span class="t" style="left:1891.43px;top:4110.40px;font-size:36.4px;transform:scaleX(1.0365);">Stan w końcu miesiąca</span>
<span class="t" style="left:1858.51px;top:4176.50px;font-size:56px;transform:scaleX(0.9878);">**</span>
<span class="t" style="left:1913.76px;top:4194.50px;font-size:36.4px;transform:scaleX(1.0208);">Ceny stałe</span>
<span class="t" style="left:292.90px;top:4359.40px;font-size:42.5px;color:#fff;transform:scaleX(1.0146);">Więcej informacji:</span>
<span class="t" style="left:291.96px;top:4408.50px;font-size:42.5px;font-weight:700;color:#fff;transform:scaleX(0.9409);">Statystyka Poznania – luty 2026 r.</span>
<span class="t" style="left:263.98px;top:4508.50px;font-size:42.5px;color:#fff;transform:scaleX(1.0054);">poznan.stat.gov.pl</span>
<span class="t" style="left:781.24px;top:4508.50px;font-size:42.5px;color:#fff;transform:scaleX(0.9191);">@Poznan_STAT</span>
<span class="t" style="left:1257.54px;top:4508.50px;font-size:42.5px;color:#fff;transform:scaleX(0.9203);">@PoznanSTAT</span>
<span class="t" style="left:1709.57px;top:4508.50px;font-size:42.5px;color:#fff;transform:scaleX(0.9774);">@UrządStatystycznywPoznaniu</span>
<span class="t" style="left:214.91px;top:4374.90px;font-size:65px;font-weight:700;color:#000;font-family:'Liberation Serif',serif;font-style:italic;transform:scaleX(1.0938);">i</span>
</body></html>
